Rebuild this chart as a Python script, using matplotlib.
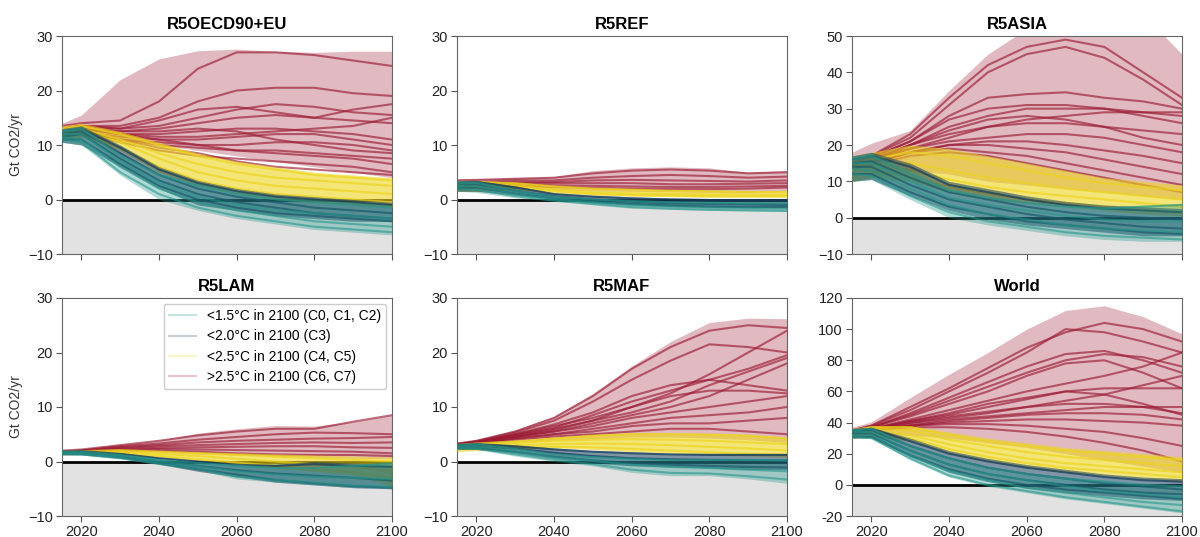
import numpy as np
import matplotlib.pyplot as plt
from matplotlib.lines import Line2D

plt.rcParams['font.family'] = ['Liberation Sans', 'DejaVu Sans']

years = [2015, 2020, 2030, 2040, 2050, 2060, 2070, 2080, 2090, 2100]

# colours per temperature category
c15 = '#23968a'   # <1.5C
c20 = '#173e5e'   # <2.0C
c25 = '#ecd41c'   # <2.5C
c30 = '#9b1a33'   # >2.5C

# ---------------- R5OECD90+EU ----------------
oecd_red_lo = [11, 11.5, 11, 10, 9, 8, 7, 6, 5, 4]
oecd_red_hi = [14, 15.5, 22, 25.8, 27.3, 27.6, 27.2, 27, 27.2, 27.2]
oecd_red_lines = [
    [13.5, 14, 14.5, 18, 24, 27, 27, 26.5, 25.5, 24.5],
    [13, 13.5, 13.5, 15, 18, 20, 20.5, 20.5, 19.5, 19],
    [13, 13.5, 13, 14.5, 16.5, 17, 16, 15, 16.5, 17.5],
    [12.5, 13, 12.5, 13, 14, 15, 15.5, 15, 14.5, 14],
    [12.5, 13, 12, 12, 12.5, 13, 13, 12.5, 12, 11],
    [12, 12.5, 11.5, 11, 11, 11.5, 12, 12, 11, 10],
    [12, 12.5, 11, 10, 9.5, 9, 9, 8.5, 8, 7.5],
    [12, 12, 10.5, 9, 8, 7.5, 7, 6.5, 6, 5],
    [12.5, 13, 12, 11, 10, 9, 8.5, 8, 7.5, 6.5],
    [13, 13.5, 12.5, 12.5, 13, 12.5, 11, 10, 9, 8.5],
    [12.5, 13, 12, 11.5, 11.5, 12, 12.5, 13, 13.5, 15],
    [12, 12.5, 11, 10.5, 10, 10, 10.5, 10.5, 10, 9],
    [13, 13.5, 13, 13.5, 15, 16.5, 17.5, 17, 16, 15.5],
    [12, 12.5, 11, 9.5, 8.5, 7, 6, 5.5, 5, 4.5],
]
oecd_yel_lo = [11, 11.5, 9, 5, 2.5, 1, 0, -0.5, -1, -1.5]
oecd_yel_hi = [13.5, 14, 12.5, 10.5, 8.5, 7, 6, 5, 4.5, 4]
oecd_yel_lines = [
    [13, 13.5, 12, 10, 8, 6.5, 5.5, 4.5, 4, 3.5],
    [12.5, 13, 11, 8.5, 6.5, 5, 4, 3.5, 3, 2.5],
    [12, 12.5, 10.5, 7.5, 5, 3.5, 2.5, 2, 1.5, 1],
    [11.5, 12, 9.5, 6, 3.5, 2, 1, 0.5, 0, -0.5],
]
oecd_navy_lo = [10.5, 10, 6, 2, -1, -2, -3, -3.5, -4, -4]
oecd_navy_hi = [13, 13.5, 10, 6, 3.5, 2, 1, 0.5, 0, -0.5]
oecd_navy_lines = [
    [12.5, 13, 9.5, 5.5, 3, 1.5, 0.5, 0, -0.5, -1],
    [12, 12.5, 8.5, 4.5, 2, 0.5, -0.5, -1.5, -2, -2.5],
    [11.5, 12, 7.5, 3.5, 1, -0.5, -1.5, -2.5, -3, -3.5],
    [11, 11, 6.5, 2.5, 0, -1.5, -2.5, -3, -3.5, -4],
]
oecd_teal_lo = [10.5, 10, 4.5, 0, -2, -3.5, -4.5, -5.5, -6, -6.5]
oecd_teal_hi = [13, 13.5, 8.5, 5, 3, 1.5, 0.5, 0, -0.5, -1]
oecd_teal_lines = [
    [12.5, 13, 8, 4.5, 2.5, 1, 0, -0.5, -1, -1.5],
    [12, 12, 7, 3, 0.5, -1, -2, -2.5, -3, -3.5],
    [11.5, 11, 6, 2, -0.5, -2, -3, -4, -4.5, -5],
    [11, 10.5, 5, 1, -1.5, -3, -4, -5, -5.5, -6],
]

# ---------------- R5REF ----------------
ref_red_lo = [1.5, 1.5, 2, 1.8, 1.6, 1.5, 1.4, 1.3, 1.2, 1.5]
ref_red_hi = [3.8, 3.8, 4, 4.2, 5.3, 5.8, 6, 5.8, 5, 5.3]
ref_red_lines = [
    [3.5, 3.6, 3.8, 4, 4.8, 5.3, 5.5, 5.3, 4.8, 5],
    [3, 3.2, 3.5, 3.5, 4, 4.3, 4.5, 4.3, 4, 4.2],
    [2.8, 3, 3.2, 3.2, 3.5, 3.6, 3.5, 3.4, 3.3, 3.5],
    [2.5, 2.8, 3, 3, 3, 3, 2.8, 2.8, 2.9, 3],
    [2.3, 2.6, 2.8, 2.6, 2.5, 2.4, 2.3, 2.3, 2.4, 2.5],
    [2, 2.3, 2.5, 2.3, 2.1, 2, 1.9, 1.9, 2, 2.2],
]
ref_yel_lo = [1.5, 1.5, 1.8, 1.2, 0.8, 0.6, 0.5, 0.4, 0.4, 0.4]
ref_yel_hi = [3.5, 3.5, 3.2, 2.6, 2.2, 2, 1.8, 1.7, 1.6, 1.6]
ref_yel_lines = [
    [3, 3.2, 3, 2.4, 2, 1.8, 1.6, 1.5, 1.4, 1.4],
    [2.5, 2.8, 2.6, 1.8, 1.3, 1.1, 1, 0.9, 0.9, 0.9],
    [2, 2.3, 2.2, 1.5, 1, 0.8, 0.7, 0.6, 0.6, 0.6],
]
ref_navy_lo = [1.5, 1.5, 0.8, 0, -0.6, -1, -1.3, -1.4, -1.5, -1.5]
ref_navy_hi = [3.5, 3.5, 2.5, 1.2, 0.8, 0.5, 0.3, 0.2, 0.2, 0.2]
ref_navy_lines = [
    [3, 3.2, 2.2, 1, 0.5, 0.2, 0, -0.1, -0.1, -0.2],
    [2.5, 2.8, 1.6, 0.6, 0, -0.4, -0.7, -0.8, -0.9, -1],
    [2, 2.2, 1.1, 0.2, -0.4, -0.8, -1.1, -1.3, -1.4, -1.4],
]
ref_teal_lo = [1.5, 1.3, 0.3, -0.3, -1, -1.6, -1.8, -2, -2.1, -2.2]
ref_teal_hi = [3.5, 3.5, 2, 0.8, 0.3, 0, -0.2, -0.3, -0.3, -0.3]
ref_teal_lines = [
    [3, 3, 1.6, 0.5, 0, -0.3, -0.5, -0.6, -0.7, -0.7],
    [2.5, 2.4, 1, 0.1, -0.5, -1, -1.3, -1.5, -1.6, -1.7],
    [2, 1.8, 0.6, -0.2, -0.8, -1.4, -1.7, -1.9, -2, -2.1],
]

# ---------------- R5ASIA ----------------
asia_red_lo = [10, 11, 13, 12, 10, 9, 8, 7, 6, 5]
asia_red_hi = [18, 20.5, 24, 35, 45, 52, 56, 57, 56, 45]
asia_red_lines = [
    [15, 17, 23, 33, 42, 47, 49, 47, 40, 33],
    [15, 17, 22, 31, 40, 45, 47, 44, 38, 31],
    [15, 16.5, 21, 28, 33, 34, 34.5, 33, 32, 30],
    [15, 16, 20, 25, 28, 30, 30, 30, 29, 28],
    [14, 16, 19, 22, 25, 27, 28, 29, 29, 29],
    [14, 15.5, 19, 21, 22, 23, 23, 22, 20, 18],
    [14, 15, 18, 20, 20, 19, 18, 16, 14, 12],
    [13, 15, 18, 19, 18, 17, 15, 13, 11, 9],
    [14, 15.5, 20, 24, 27, 28, 27, 25, 22, 20],
    [13, 14.5, 17, 18, 17, 15, 13, 11, 9, 7],
    [14.5, 16, 20, 23, 25, 26, 26, 25, 24, 23],
    [13.5, 15, 18, 20, 21, 21, 20, 18.5, 17, 15],
    [15, 16.5, 21, 27, 30, 31, 31, 30, 28, 26],
]
asia_yel_lo = [10, 11, 10, 7, 5, 4, 3, 2, 1, 0.5]
asia_yel_hi = [17, 18, 20, 19, 17, 15, 13, 11, 10, 9]
asia_yel_lines = [
    [15, 16, 18, 17, 15, 13, 11, 9.5, 8.5, 7.5],
    [14, 15, 15, 13, 11, 9.5, 8, 7, 6, 5],
    [13, 14, 13, 10.5, 8.5, 7, 6, 5, 4, 3],
    [12, 12.5, 11.5, 8.5, 6.5, 5, 4, 3, 2, 1.5],
]
asia_navy_lo = [10, 10.5, 6, 2, -0.5, -2, -3, -4, -5, -5]
asia_navy_hi = [17, 18, 15, 10, 8, 6, 4.5, 3.5, 3, 2.5]
asia_navy_lines = [
    [16, 17, 14, 9, 7, 5, 3.5, 2.5, 2, 1.5],
    [15, 15.5, 11, 7, 5, 3, 1.5, 0.5, 0, -0.5],
    [14, 14, 9, 5, 3, 1, -0.5, -1.5, -2.5, -3],
    [12, 12, 7, 3, 1, -1, -2, -3, -4, -4.5],
]
asia_teal_lo = [10, 10.5, 5, 0, -2, -3.5, -5, -6, -6.5, -6.5]
asia_teal_hi = [17, 18, 13, 8, 6, 4.5, 3.5, 3, 3.5, 4]
asia_teal_lines = [
    [16, 17, 12, 7.5, 5.5, 4, 3, 2.5, 3, 3.5],
    [15, 15, 10, 5.5, 3.5, 2, 0.5, -0.5, -1, -1],
    [13.5, 13, 8, 3.5, 1, -0.5, -2, -3, -3.5, -4],
    [12, 11.5, 6, 1.5, -1, -2.5, -4, -5, -5.5, -6],
]

# ---------------- R5LAM ----------------
lam_red_lo = [1.4, 1.5, 1.8, 1.7, 1.4, 1.2, 1, 0.8, 0.6, 0.5]
lam_red_hi = [2.1, 2.3, 3.1, 3.9, 5.2, 6, 6.6, 6.5, 7.3, 8.5]
lam_red_lines = [
    [2, 2.2, 3, 3.8, 4.8, 5.5, 6, 6, 7.3, 8.5],
    [1.8, 2, 2.8, 3.3, 4, 4.5, 5, 5.3, 5.2, 5],
    [1.8, 2, 2.6, 3, 3.5, 3.8, 4, 4.2, 4.3, 4.5],
    [1.7, 1.9, 2.5, 2.8, 3, 3.2, 3.4, 3.5, 3.4, 3.5],
    [1.6, 1.8, 2.3, 2.5, 2.6, 2.7, 2.8, 2.8, 2.6, 2.5],
    [1.6, 1.8, 2.2, 2.3, 2.2, 2.1, 2, 1.9, 1.8, 1.5],
    [1.5, 1.7, 2, 2, 1.8, 1.5, 1.3, 1.2, 1.2, 1],
]
lam_yel_lo = [1.2, 1.3, 1.4, 0.8, 0.2, -0.5, -1.2, -1.8, -2.5, -4.5]
lam_yel_hi = [1.9, 2, 2.2, 2, 1.8, 1.6, 1.4, 1.2, 1, 0.8]
lam_yel_lines = [
    [1.8, 1.9, 2.1, 1.8, 1.5, 1.2, 0.9, 0.6, 0.3, 0],
    [1.6, 1.7, 1.8, 1.4, 1, 0.5, 0, -0.5, -1, -1.8],
    [1.4, 1.5, 1.6, 1, 0.4, -0.2, -0.8, -1.4, -2, -3],
]
lam_navy_lo = [1.2, 1.2, 0.6, -0.5, -1.8, -2.8, -3.8, -4.3, -4.8, -5]
lam_navy_hi = [1.9, 2, 1.6, 0.8, 0.2, -0.5, -0.5, 0, -0.3, -0.5]
lam_navy_lines = [
    [1.8, 1.9, 1.4, 0.6, 0, -0.6, -0.8, -0.5, -0.8, -1],
    [1.6, 1.6, 1, 0, -0.8, -1.6, -2.2, -2.6, -3, -3.5],
    [1.4, 1.4, 0.8, -0.3, -1.4, -2.4, -3.4, -4, -4.5, -4.8],
]
lam_teal_lo = [1.2, 1.2, 0.5, -0.6, -1.6, -3.2, -3.8, -4.3, -4.8, -5]
lam_teal_hi = [1.9, 2, 1.4, 0.5, 0, -0.5, -1, -1, -0.5, 0]
lam_teal_lines = [
    [1.8, 1.8, 1.2, 0.3, -0.3, -0.8, -1.2, -1.2, -0.8, -0.4],
    [1.6, 1.5, 0.9, 0, -0.8, -1.8, -2.4, -2.8, -3, -3.2],
    [1.4, 1.3, 0.6, -0.4, -1.3, -2.8, -3.4, -3.9, -4.4, -4.7],
]

# ---------------- R5MAF ----------------
maf_red_lo = [2.5, 2.8, 3.5, 4, 4.2, 4.5, 4.5, 4.3, 4, 3.5]
maf_red_hi = [3.5, 4, 5.8, 8.3, 12.5, 17.5, 22, 25.5, 26.3, 26.2]
maf_red_lines = [
    [3.3, 3.8, 5.5, 8, 12, 17, 21, 24, 25, 24.5],
    [3.2, 3.7, 5.3, 7.5, 11, 15, 18.5, 21.5, 21, 20],
    [3.1, 3.6, 5, 6.5, 8, 10, 12.5, 16, 20, 24],
    [3, 3.5, 4.8, 6, 7.5, 9, 11, 14, 16.5, 19],
    [3, 3.4, 4.6, 5.5, 7, 8.5, 10, 12, 15, 18],
    [3, 3.4, 4.5, 5.5, 6.5, 8, 9, 10, 11, 12],
    [2.9, 3.3, 4.3, 5, 6, 7, 8, 8.5, 9, 10],
    [2.9, 3.3, 4.2, 5, 5.5, 6.5, 7, 7, 7.5, 8],
    [2.8, 3.2, 4, 4.6, 5, 5.5, 6, 6, 5.5, 5],
    [3.1, 3.6, 5, 6.8, 9, 12, 14, 15, 14, 13],
    [3, 3.4, 4.5, 5.8, 7.5, 10, 12, 13, 13, 12.5],
    [3.1, 3.5, 4.8, 6.2, 8.5, 11, 13, 15, 17, 19.5],
]
maf_yel_lo = [1.8, 2, 2.3, 2.5, 2.2, 1.8, 1.5, 1.2, 1, 0.8]
maf_yel_hi = [3.2, 3.5, 3.8, 4.5, 5, 5.3, 5.3, 5.2, 5, 4.5]
maf_yel_lines = [
    [3, 3.3, 3.7, 4.2, 4.7, 5, 5, 4.9, 4.7, 4.2],
    [2.8, 3.1, 3.4, 3.8, 4, 4.1, 4, 3.8, 3.5, 3.2],
    [2.5, 2.8, 3, 3.2, 3.3, 3.2, 3, 2.7, 2.4, 2],
    [2.2, 2.4, 2.6, 2.7, 2.6, 2.3, 2, 1.7, 1.4, 1.2],
]
maf_navy_lo = [2.2, 2.2, 1.5, 0.5, -0.3, -0.8, -1, -1.2, -1.5, -1.5]
maf_navy_hi = [3.2, 3.4, 3, 2.5, 2, 1.8, 1.5, 1.5, 1.5, 1.5]
maf_navy_lines = [
    [3, 3.2, 2.8, 2.2, 1.8, 1.5, 1.3, 1.2, 1.2, 1.2],
    [2.8, 2.9, 2.4, 1.6, 1, 0.6, 0.4, 0.3, 0.2, 0.2],
    [2.5, 2.5, 1.8, 0.9, 0.2, -0.3, -0.6, -0.8, -1, -1.1],
]
maf_teal_lo = [2.2, 2.2, 1, 0, -0.8, -2, -2.6, -2.6, -3.2, -4]
maf_teal_hi = [3.2, 3.4, 2.5, 1.5, 1, 0.7, 0.5, 0.5, 0.5, 0.5]
maf_teal_lines = [
    [3, 3.2, 2.3, 1.3, 0.8, 0.5, 0.3, 0.3, 0.3, 0.2],
    [2.7, 2.8, 1.8, 0.8, 0.1, -0.6, -1, -1.2, -1.5, -1.8],
    [2.4, 2.4, 1.3, 0.3, -0.5, -1.5, -2.1, -2.2, -2.7, -3.3],
]

# ---------------- World ----------------
world_red_lo = [30, 31, 32, 30, 27, 24, 20, 16, 12, 8]
world_red_hi = [37, 40.5, 56, 71, 85, 100, 112, 115, 108, 97]
world_red_lines = [
    [35, 38, 50, 62, 75, 88, 98, 104, 100, 92],
    [35, 38, 48, 60, 72, 85, 100, 98, 92, 85],
    [34, 37, 46, 56, 66, 76, 84, 86, 80, 72],
    [34, 37, 44, 52, 60, 70, 78, 80, 72, 62],
    [34, 36, 42, 48, 54, 60, 65, 70, 76, 85],
    [33, 36, 41, 45, 50, 55, 60, 62, 62, 62],
    [33, 36, 40, 43, 46, 50, 54, 58, 64, 70],
    [33, 35, 39, 42, 44, 46, 48, 50, 50, 50],
    [33, 35, 38, 40, 41, 42, 42, 41, 40, 38],
    [32, 35, 38, 39, 39, 38, 36, 34, 30, 25],
    [32, 35, 37, 37, 36, 34, 31, 27, 22, 15],
    [33, 36, 41, 46, 52, 56, 60, 58, 52, 45],
    [34, 37, 45, 54, 63, 72, 80, 84, 82, 76],
    [33, 35, 40, 44, 47, 50, 52, 52, 50, 46],
    [32, 35, 38, 41, 43, 45, 46, 46, 45, 42],
]
world_yel_lo = [30, 31, 28, 20, 15, 11, 8, 6, 4, 2]
world_yel_hi = [36, 38, 38, 34, 30, 27, 24, 22, 20, 18]
world_yel_lines = [
    [35, 37, 37, 32, 28, 25, 22, 20, 18, 16],
    [34, 36, 35, 29, 25, 21, 18, 16, 14, 12],
    [33, 35, 32, 26, 21, 17, 14, 12, 10, 8],
    [32, 33, 30, 23, 18, 14, 11, 9, 7, 5],
]
world_navy_lo = [30, 30, 18, 8, 2, -2, -5, -7, -9, -10]
world_navy_hi = [36, 37, 30, 22, 17, 13, 10, 7, 5, 4]
world_navy_lines = [
    [35, 36, 28, 20, 15, 11, 8, 5, 3, 2],
    [34, 35, 25, 17, 11, 7, 4, 1, -1, -3],
    [33, 33, 22, 13, 7, 3, 0, -3, -5, -6],
    [31, 31, 19, 10, 4, 0, -3, -5, -7, -9],
]
world_teal_lo = [30, 30, 16, 5, -1, -5, -9, -12, -15, -18]
world_teal_hi = [36, 37, 26, 18, 12, 8, 5, 3, 1, 0]
world_teal_lines = [
    [35, 36, 25, 17, 11, 7, 4, 2, 0, -1],
    [34, 34, 22, 13, 7, 3, -1, -4, -6, -8],
    [32, 32, 19, 9, 3, -2, -5, -8, -11, -13],
    [31, 30, 17, 6, 0, -4, -8, -11, -14, -17],
]

titles = ['R5OECD90+EU', 'R5REF', 'R5ASIA', 'R5LAM', 'R5MAF', 'World']
ylims = [(-10, 30), (-10, 30), (-10, 50), (-10, 30), (-10, 30), (-20, 120)]
legend_labels = ['<1.5°C in 2100 (C0, C1, C2)', '<2.0°C in 2100 (C3)',
                 '<2.5°C in 2100 (C4, C5)', '>2.5°C in 2100 (C6, C7)']

# drawing order: >2.5, <2.5, <2.0, <1.5
panels = [
    [(oecd_red_lo, oecd_red_hi, oecd_red_lines), (oecd_yel_lo, oecd_yel_hi, oecd_yel_lines),
     (oecd_navy_lo, oecd_navy_hi, oecd_navy_lines), (oecd_teal_lo, oecd_teal_hi, oecd_teal_lines)],
    [(ref_red_lo, ref_red_hi, ref_red_lines), (ref_yel_lo, ref_yel_hi, ref_yel_lines),
     (ref_navy_lo, ref_navy_hi, ref_navy_lines), (ref_teal_lo, ref_teal_hi, ref_teal_lines)],
    [(asia_red_lo, asia_red_hi, asia_red_lines), (asia_yel_lo, asia_yel_hi, asia_yel_lines),
     (asia_navy_lo, asia_navy_hi, asia_navy_lines), (asia_teal_lo, asia_teal_hi, asia_teal_lines)],
    [(lam_red_lo, lam_red_hi, lam_red_lines), (lam_yel_lo, lam_yel_hi, lam_yel_lines),
     (lam_navy_lo, lam_navy_hi, lam_navy_lines), (lam_teal_lo, lam_teal_hi, lam_teal_lines)],
    [(maf_red_lo, maf_red_hi, maf_red_lines), (maf_yel_lo, maf_yel_hi, maf_yel_lines),
     (maf_navy_lo, maf_navy_hi, maf_navy_lines), (maf_teal_lo, maf_teal_hi, maf_teal_lines)],
    [(world_red_lo, world_red_hi, world_red_lines), (world_yel_lo, world_yel_hi, world_yel_lines),
     (world_navy_lo, world_navy_hi, world_navy_lines), (world_teal_lo, world_teal_hi, world_teal_lines)],
]
band_colors = [c30, c25, c20, c15]
fill_alpha = [0.3, 0.6, 0.55, 0.35]
line_alpha = [0.65, 0.7, 0.75, 0.6]

fig = plt.figure(figsize=(12, 5.37), dpi=100)
lefts = [62 / 1200, 457 / 1200, 852 / 1200]
bottoms = [1 - 254 / 537, 1 - 516 / 537]
w, h = 330 / 1200, 218 / 537

for i in range(6):
    ax = fig.add_axes([lefts[i % 3], bottoms[i // 3], w, h])
    y0, y1 = ylims[i]
    ax.axhspan(y0, 0, color='#e2e2e2', zorder=0, lw=0)
    ax.plot([2015, 2100], [0, 0], color='black', lw=2, zorder=1)
    for k, (lo, hi, lines) in enumerate(panels[i]):
        col = band_colors[k]
        ax.fill_between(years, lo, hi, color=col, alpha=fill_alpha[k], lw=0, zorder=2 + k)
        for ln in lines:
            ax.plot(years, ln, color=col, alpha=line_alpha[k], lw=1.5, zorder=2 + k)
    ax.set_xlim(2015, 2100)
    ax.set_ylim(y0, y1)
    ax.set_xticks([2020, 2040, 2060, 2080, 2100])
    if i < 3:
        ax.set_xticklabels([])
    ax.set_title(titles[i], fontsize=12, fontweight='bold', pad=5)
    if i % 3 == 0:
        ax.set_ylabel('Gt CO2/yr', fontsize=10, color='#333333')
    if i == 5:
        ax.set_yticks(range(-20, 121, 20))
        ax.set_yticklabels(['-20', '0', '20', '40', '60', '80', '100', '120'])
    ax.tick_params(labelsize=10.5, length=4, pad=2.5, color='#555555', labelcolor='#222222')
    for s in ax.spines.values():
        s.set_color('#666666')
        s.set_linewidth(0.8)
    if i == 3:
        handles = [Line2D([], [], color=c, alpha=0.25, lw=1.5) for c in [c15, c20, c25, c30]]
        ax.legend(handles, legend_labels, loc='upper right', fontsize=10,
                  frameon=True, edgecolor='#cccccc', framealpha=1, borderaxespad=0.4,
                  handlelength=1.9, labelspacing=0.45)

plt.savefig('out.png', dpi=100)
